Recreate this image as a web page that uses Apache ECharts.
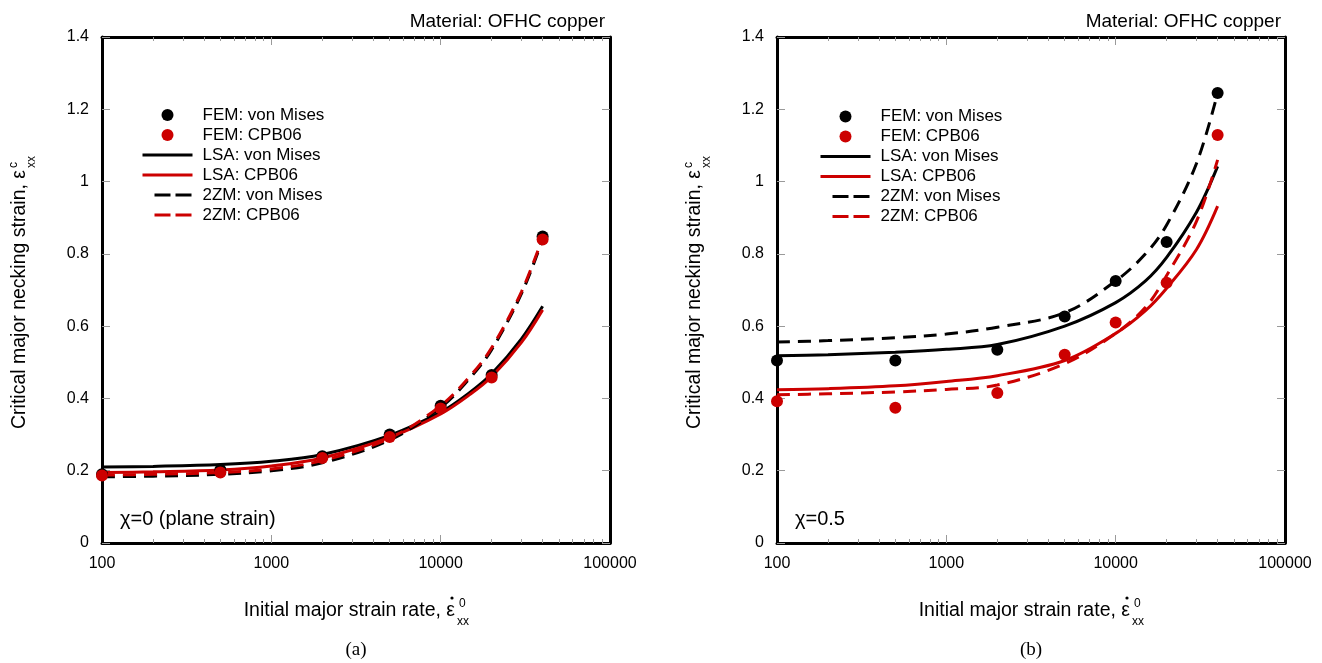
<!DOCTYPE html>
<html><head><meta charset="utf-8">
<script src="https://cdn.jsdelivr.net/npm/echarts@6/dist/echarts.min.js"></script>
<style>html,body{margin:0;padding:0;background:#fff}#c{width:1322px;height:663px}</style>
</head><body><div id="c"></div>
<script>
// ---------- data ----------
const femRates = [100, 500, 2000, 5000, 10000, 20000, 40000];
const curveRates = [100, 200, 500, 1000, 2000, 5000, 10000, 15000, 20000, 30000, 40000];
const xTickLabels = [100, 1000, 10000, 100000];
const xMajorTicks = [1000, 10000];
const xMinorTicks = [200, 300, 400, 500, 600, 700, 800, 900,
                     2000, 3000, 4000, 5000, 6000, 7000, 8000, 9000,
                     20000, 30000, 40000, 50000, 60000, 70000, 80000, 90000];
const seriesNames = ['FEM: von Mises', 'FEM: CPB06', 'LSA: von Mises', 'LSA: CPB06', '2ZM: von Mises', '2ZM: CPB06'];
const panelTitles = ['Material: OFHC copper', 'Material: OFHC copper'];
const panelNotes = ['χ=0 (plane strain)', 'χ=0.5'];
const panelCaptions = ['(a)', '(b)'];

// panel (a) chi = 0
const aFemVM   = [0.190, 0.203, 0.240, 0.300, 0.380, 0.465, 0.848];
const aFemCPB  = [0.187, 0.195, 0.235, 0.293, 0.372, 0.458, 0.840];
const aLsaVM   = [0.210, 0.212, 0.217, 0.226, 0.245, 0.298, 0.362, 0.418, 0.468, 0.565, 0.655];
const aLsaCPB  = [0.195, 0.197, 0.202, 0.213, 0.235, 0.292, 0.357, 0.412, 0.460, 0.555, 0.645];
const a2zmVM   = [0.183, 0.185, 0.190, 0.200, 0.222, 0.285, 0.375, 0.458, 0.535, 0.690, 0.840];
const a2zmCPB  = [0.188, 0.190, 0.195, 0.205, 0.228, 0.290, 0.380, 0.463, 0.540, 0.695, 0.845];

// panel (b) chi = 0.5
const bFemVM   = [0.505, 0.505, 0.535, 0.627, 0.725, 0.833, 1.245];
const bFemCPB  = [0.392, 0.374, 0.415, 0.521, 0.610, 0.720, 1.129];
const bLsaVM   = [0.518, 0.521, 0.528, 0.536, 0.549, 0.600, 0.665, 0.725, 0.790, 0.915, 1.042];
const bLsaCPB  = [0.424, 0.427, 0.435, 0.447, 0.463, 0.505, 0.580, 0.643, 0.705, 0.812, 0.932];
const b2zmVM   = [0.556, 0.560, 0.568, 0.578, 0.597, 0.637, 0.725, 0.800, 0.880, 1.050, 1.245];
const b2zmCPB  = [0.410, 0.413, 0.418, 0.425, 0.437, 0.496, 0.580, 0.652, 0.740, 0.890, 1.060];

const panels = [
  {fem: [aFemVM, aFemCPB], lines: [aLsaVM, aLsaCPB, a2zmVM, a2zmCPB]},
  {fem: [bFemVM, bFemCPB], lines: [bLsaVM, bLsaCPB, b2zmVM, b2zmCPB]}
];

// ---------- layout / style ----------
const BLACK = '#000000', RED = '#cc0000', TICK = '#9a9a9a';
const FONT = '"Liberation Sans", Arial, sans-serif';
const gridLeft = [102, 777], gridTop = 37, gridW = 508, gridH = 506;
const DASH = [13, 8];

const pair = (xs, ys) => xs.map((x, i) => [x, ys[i]]);

const grids = [], xAxes = [], yAxes = [], series = [], legends = [], titles = [], graphics = [];

const legendData = seriesNames.map((n, i) => {
  if (i < 2) return {name: n};
  const dashed = i >= 4;
  return {name: n, itemStyle: {opacity: 0},
          lineStyle: dashed ? {type: [16, 5, 16, 13], dashOffset: 38, width: 3} : {type: 'solid', width: 3}};
});

for (let p = 0; p < 2; p++) {
  grids.push({left: gridLeft[p], top: gridTop, width: gridW, height: gridH, containLabel: false});
  const xBase = {gridIndex: p, type: 'log', logBase: 10, min: 100, max: 100000, splitLine: {show: false}, minorTick: {show: false}};
  xAxes.push(Object.assign({}, xBase, {
    position: 'bottom',
    axisLine: {show: true, onZero: false, lineStyle: {color: BLACK, width: 3}},
    axisTick: {show: true, inside: true, length: 8, customValues: xMajorTicks, lineStyle: {color: TICK, width: 1}},
    axisLabel: {show: true, customValues: xTickLabels, margin: 13, color: BLACK, fontSize: 16, fontFamily: FONT,
                formatter: v => String(Math.round(v))}
  }));
  xAxes.push(Object.assign({}, xBase, {
    position: 'bottom',
    axisLine: {show: false, onZero: false},
    axisTick: {show: true, inside: true, length: 4, customValues: xMinorTicks, lineStyle: {color: TICK, width: 1}},
    axisLabel: {show: false}
  }));
  xAxes.push(Object.assign({}, xBase, {
    position: 'top',
    axisLine: {show: true, onZero: false, lineStyle: {color: BLACK, width: 3}},
    axisTick: {show: true, inside: true, length: 8, customValues: xMajorTicks, lineStyle: {color: TICK, width: 1}},
    axisLabel: {show: false}
  }));
  xAxes.push(Object.assign({}, xBase, {
    position: 'top',
    axisLine: {show: false, onZero: false},
    axisTick: {show: true, inside: true, length: 4, customValues: xMinorTicks, lineStyle: {color: TICK, width: 1}},
    axisLabel: {show: false}
  }));
  const yBase = {gridIndex: p, type: 'value', min: 0, max: 1.4, interval: 0.2, splitLine: {show: false}};
  yAxes.push(Object.assign({}, yBase, {
    position: 'left',
    axisLine: {show: true, onZero: false, lineStyle: {color: BLACK, width: 3}},
    axisTick: {show: true, inside: true, length: 8, lineStyle: {color: TICK, width: 1}},
    axisLabel: {show: true, margin: 13, color: BLACK, fontSize: 16, fontFamily: FONT}
  }));
  yAxes.push(Object.assign({}, yBase, {
    position: 'right',
    axisLine: {show: true, onZero: false, lineStyle: {color: BLACK, width: 3}},
    axisTick: {show: true, inside: true, length: 8, lineStyle: {color: TICK, width: 1}},
    axisLabel: {show: false}
  }));

  const xi = p * 4, yi = p * 2;
  const lineDefs = [
    {name: seriesNames[2], color: BLACK, type: 'solid', data: panels[p].lines[0]},
    {name: seriesNames[3], color: RED, type: 'solid', data: panels[p].lines[1]},
    {name: seriesNames[4], color: BLACK, type: DASH, data: panels[p].lines[2]},
    {name: seriesNames[5], color: RED, type: DASH, data: panels[p].lines[3]}
  ];
  lineDefs.forEach(d => series.push({
    type: 'line', name: d.name, xAxisIndex: xi, yAxisIndex: yi, data: pair(curveRates, d.data),
    smooth: 0.35, symbol: 'none', z: 2, animation: false,
    lineStyle: {color: d.color, width: 3, type: d.type}, itemStyle: {color: d.color}
  }));
  [[seriesNames[0], BLACK, panels[p].fem[0]], [seriesNames[1], RED, panels[p].fem[1]]].forEach(d => series.push({
    type: 'scatter', name: d[0], xAxisIndex: xi, yAxisIndex: yi, data: pair(femRates, d[2]),
    symbol: 'circle', symbolSize: 12, z: 3, animation: false, itemStyle: {color: d[1], opacity: 1}
  }));

  legends.push({
    data: legendData, orient: 'vertical', left: p === 0 ? 141 : 819, top: p === 0 ? 106.5 : 108,
    padding: 0, itemWidth: 50, itemHeight: 12, itemGap: 3, selectedMode: false,
    textStyle: {fontSize: 17, fontFamily: FONT, color: BLACK, lineHeight: 16, padding: [0, 0, 0, 5]}
  });

  titles.push({text: panelTitles[p], right: p === 0 ? 1322 - 610 : 1322 - 1286, top: 7,
               textStyle: {fontSize: 19, fontWeight: 'normal', fontFamily: FONT, color: BLACK}});

  const L = gridLeft[p];
  // annotation inside plot
  graphics.push({type: 'text', x: L + 18, y: 519, style: {text: panelNotes[p], font: '20px ' + FONT, fill: BLACK, textVerticalAlign: 'middle'}});
  // caption
  const cx = L + gridW / 2;
  graphics.push({type: 'text', x: cx, y: 650, style: {text: panelCaptions[p], font: '19px "Liberation Serif", "DejaVu Serif", serif', fill: BLACK, textAlign: 'center', textVerticalAlign: 'middle'}});
  // x-axis title
  const xe = cx + 99;
  graphics.push({type: 'text', x: xe, y: 611, style: {text: 'Initial major strain rate, ε', font: '19.5px ' + FONT, fill: BLACK, textAlign: 'right', textVerticalAlign: 'middle'}});
  graphics.push({type: 'circle', shape: {cx: xe - 3, cy: 598, r: 1.6}, style: {fill: BLACK}});
  graphics.push({type: 'text', x: xe + 4, y: 604, style: {text: '0', font: '12px ' + FONT, fill: BLACK, textVerticalAlign: 'middle'}});
  graphics.push({type: 'text', x: xe + 2, y: 622, style: {text: 'xx', font: '12px ' + FONT, fill: BLACK, textVerticalAlign: 'middle'}});
  // y-axis title (rotated)
  graphics.push({type: 'group', x: L - 82, y: 170, rotation: Math.PI / 2, children: [
    {type: 'text', x: 0, y: 0, style: {text: 'Critical major necking strain, ε', font: '19.5px ' + FONT, fill: BLACK, textAlign: 'right', textVerticalAlign: 'middle'}},
    {type: 'text', x: 2, y: -6, style: {text: 'c', font: '12px ' + FONT, fill: BLACK, textVerticalAlign: 'middle'}},
    {type: 'text', x: 2, y: 12, style: {text: 'xx', font: '12px ' + FONT, fill: BLACK, textVerticalAlign: 'middle'}}
  ]});
}

const chart = echarts.init(document.getElementById('c'), null, {renderer: 'canvas'});
chart.setOption({
  backgroundColor: '#ffffff',
  animation: false,
  title: titles,
  legend: legends,
  grid: grids,
  xAxis: xAxes,
  yAxis: yAxes,
  series: series,
  graphic: graphics
});
</script></body></html>
